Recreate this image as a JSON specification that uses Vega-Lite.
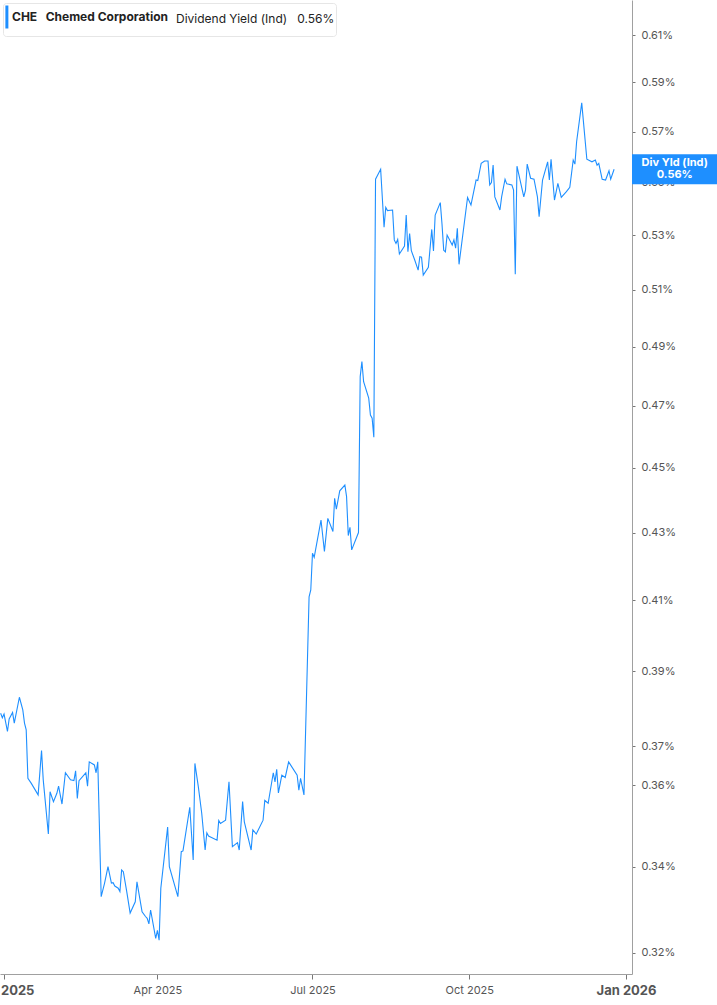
{
  "$schema": "https://vega.github.io/schema/vega-lite/v6.json",
  "width": 632,
  "height": 974,
  "padding": {"left": 0, "top": 0, "right": 85, "bottom": 31},
  "autosize": {"type": "none"},
  "background": "white",
  "config": {
    "font": "Inter",
    "view": {"stroke": null},
    "axis": {"grid": false, "domainColor": "#a0a0a0", "tickColor": "#777777", "labelColor": "#555555", "labelFontSize": 11, "title": null}
  },
  "datasets": {
    "yield": [
      {"date": "2024-12-30", "yield": 0.3787}, {"date": "2024-12-31", "yield": 0.3775}, {"date": "2025-01-01", "yield": 0.3785},
      {"date": "2025-01-03", "yield": 0.3739}, {"date": "2025-01-04", "yield": 0.3772}, {"date": "2025-01-06", "yield": 0.3789},
      {"date": "2025-01-07", "yield": 0.3761}, {"date": "2025-01-10", "yield": 0.383}, {"date": "2025-01-12", "yield": 0.3796},
      {"date": "2025-01-13", "yield": 0.3761}, {"date": "2025-01-14", "yield": 0.3743}, {"date": "2025-01-15", "yield": 0.3618},
      {"date": "2025-01-17", "yield": 0.3605}, {"date": "2025-01-21", "yield": 0.3576}, {"date": "2025-01-23", "yield": 0.3689},
      {"date": "2025-01-24", "yield": 0.3614}, {"date": "2025-01-27", "yield": 0.3479}, {"date": "2025-01-28", "yield": 0.3584},
      {"date": "2025-01-30", "yield": 0.3559}, {"date": "2025-02-01", "yield": 0.358}, {"date": "2025-02-02", "yield": 0.3598},
      {"date": "2025-02-04", "yield": 0.3553}, {"date": "2025-02-06", "yield": 0.3632}, {"date": "2025-02-09", "yield": 0.3614},
      {"date": "2025-02-11", "yield": 0.3612}, {"date": "2025-02-12", "yield": 0.3637}, {"date": "2025-02-13", "yield": 0.3567},
      {"date": "2025-02-14", "yield": 0.3612}, {"date": "2025-02-18", "yield": 0.3632}, {"date": "2025-02-19", "yield": 0.3598},
      {"date": "2025-02-20", "yield": 0.366}, {"date": "2025-02-23", "yield": 0.3652}, {"date": "2025-02-24", "yield": 0.3632},
      {"date": "2025-02-25", "yield": 0.366}, {"date": "2025-02-27", "yield": 0.3329}, {"date": "2025-03-01", "yield": 0.3361},
      {"date": "2025-03-03", "yield": 0.34}, {"date": "2025-03-05", "yield": 0.3361}, {"date": "2025-03-06", "yield": 0.3362},
      {"date": "2025-03-07", "yield": 0.3354}, {"date": "2025-03-09", "yield": 0.3349}, {"date": "2025-03-10", "yield": 0.3341},
      {"date": "2025-03-11", "yield": 0.3392}, {"date": "2025-03-12", "yield": 0.3388}, {"date": "2025-03-14", "yield": 0.3341},
      {"date": "2025-03-16", "yield": 0.3291}, {"date": "2025-03-19", "yield": 0.3317}, {"date": "2025-03-20", "yield": 0.3364},
      {"date": "2025-03-23", "yield": 0.3294}, {"date": "2025-03-25", "yield": 0.3283}, {"date": "2025-03-26", "yield": 0.3279},
      {"date": "2025-03-27", "yield": 0.3266}, {"date": "2025-03-28", "yield": 0.3298}, {"date": "2025-03-31", "yield": 0.3233},
      {"date": "2025-04-01", "yield": 0.3251}, {"date": "2025-04-02", "yield": 0.3229}, {"date": "2025-04-03", "yield": 0.3349},
      {"date": "2025-04-07", "yield": 0.3496}, {"date": "2025-04-08", "yield": 0.34}, {"date": "2025-04-13", "yield": 0.3329},
      {"date": "2025-04-15", "yield": 0.3436}, {"date": "2025-04-16", "yield": 0.3438}, {"date": "2025-04-20", "yield": 0.3545},
      {"date": "2025-04-22", "yield": 0.3416}, {"date": "2025-04-23", "yield": 0.3656}, {"date": "2025-04-25", "yield": 0.3597},
      {"date": "2025-04-27", "yield": 0.353}, {"date": "2025-04-29", "yield": 0.344}, {"date": "2025-04-30", "yield": 0.3482},
      {"date": "2025-05-01", "yield": 0.3474}, {"date": "2025-05-06", "yield": 0.3464}, {"date": "2025-05-07", "yield": 0.3512},
      {"date": "2025-05-08", "yield": 0.3505}, {"date": "2025-05-11", "yield": 0.3513}, {"date": "2025-05-13", "yield": 0.3609},
      {"date": "2025-05-15", "yield": 0.3448}, {"date": "2025-05-18", "yield": 0.3458}, {"date": "2025-05-19", "yield": 0.344},
      {"date": "2025-05-21", "yield": 0.3559}, {"date": "2025-05-22", "yield": 0.3509}, {"date": "2025-05-26", "yield": 0.344},
      {"date": "2025-05-27", "yield": 0.3489}, {"date": "2025-05-29", "yield": 0.3479}, {"date": "2025-06-02", "yield": 0.3513},
      {"date": "2025-06-03", "yield": 0.3562}, {"date": "2025-06-05", "yield": 0.3555}, {"date": "2025-06-08", "yield": 0.3632},
      {"date": "2025-06-09", "yield": 0.3609}, {"date": "2025-06-10", "yield": 0.3641}, {"date": "2025-06-11", "yield": 0.3581},
      {"date": "2025-06-13", "yield": 0.3626}, {"date": "2025-06-15", "yield": 0.362}, {"date": "2025-06-17", "yield": 0.366},
      {"date": "2025-06-22", "yield": 0.3626}, {"date": "2025-06-23", "yield": 0.3588}, {"date": "2025-06-24", "yield": 0.3618},
      {"date": "2025-06-26", "yield": 0.3576}, {"date": "2025-06-29", "yield": 0.411}, {"date": "2025-06-30", "yield": 0.413},
      {"date": "2025-07-01", "yield": 0.4238}, {"date": "2025-07-02", "yield": 0.4226}, {"date": "2025-07-06", "yield": 0.4338},
      {"date": "2025-07-08", "yield": 0.4243}, {"date": "2025-07-10", "yield": 0.4343}, {"date": "2025-07-13", "yield": 0.4303},
      {"date": "2025-07-14", "yield": 0.4405}, {"date": "2025-07-15", "yield": 0.4371}, {"date": "2025-07-17", "yield": 0.4428},
      {"date": "2025-07-20", "yield": 0.4446}, {"date": "2025-07-21", "yield": 0.441}, {"date": "2025-07-22", "yield": 0.4291},
      {"date": "2025-07-23", "yield": 0.4316}, {"date": "2025-07-24", "yield": 0.4248}, {"date": "2025-07-28", "yield": 0.43},
      {"date": "2025-07-29", "yield": 0.4798}, {"date": "2025-07-30", "yield": 0.4849}, {"date": "2025-07-31", "yield": 0.4781},
      {"date": "2025-08-03", "yield": 0.4726}, {"date": "2025-08-04", "yield": 0.467}, {"date": "2025-08-05", "yield": 0.466},
      {"date": "2025-08-06", "yield": 0.4598}, {"date": "2025-08-07", "yield": 0.5512}, {"date": "2025-08-10", "yield": 0.5551},
      {"date": "2025-08-12", "yield": 0.5329}, {"date": "2025-08-13", "yield": 0.5404}, {"date": "2025-08-14", "yield": 0.5392},
      {"date": "2025-08-17", "yield": 0.5394}, {"date": "2025-08-18", "yield": 0.5282}, {"date": "2025-08-19", "yield": 0.5269},
      {"date": "2025-08-20", "yield": 0.5284}, {"date": "2025-08-21", "yield": 0.523}, {"date": "2025-08-24", "yield": 0.5259},
      {"date": "2025-08-25", "yield": 0.5375}, {"date": "2025-08-26", "yield": 0.5238}, {"date": "2025-08-27", "yield": 0.5306},
      {"date": "2025-08-28", "yield": 0.5242}, {"date": "2025-08-30", "yield": 0.5208}, {"date": "2025-09-01", "yield": 0.5171},
      {"date": "2025-09-02", "yield": 0.522}, {"date": "2025-09-03", "yield": 0.5218}, {"date": "2025-09-04", "yield": 0.5153},
      {"date": "2025-09-07", "yield": 0.5181}, {"date": "2025-09-09", "yield": 0.5321}, {"date": "2025-09-10", "yield": 0.5241},
      {"date": "2025-09-11", "yield": 0.5375}, {"date": "2025-09-14", "yield": 0.5422}, {"date": "2025-09-15", "yield": 0.5341},
      {"date": "2025-09-16", "yield": 0.5244}, {"date": "2025-09-17", "yield": 0.5238}, {"date": "2025-09-18", "yield": 0.53},
      {"date": "2025-09-21", "yield": 0.5263}, {"date": "2025-09-22", "yield": 0.5282}, {"date": "2025-09-23", "yield": 0.5251},
      {"date": "2025-09-24", "yield": 0.5325}, {"date": "2025-09-25", "yield": 0.5192}, {"date": "2025-09-30", "yield": 0.5442},
      {"date": "2025-10-02", "yield": 0.5413}, {"date": "2025-10-05", "yield": 0.5509}, {"date": "2025-10-06", "yield": 0.5507},
      {"date": "2025-10-08", "yield": 0.5574}, {"date": "2025-10-10", "yield": 0.5583}, {"date": "2025-10-12", "yield": 0.5583},
      {"date": "2025-10-13", "yield": 0.549}, {"date": "2025-10-14", "yield": 0.5499}, {"date": "2025-10-15", "yield": 0.5567},
      {"date": "2025-10-16", "yield": 0.5444}, {"date": "2025-10-19", "yield": 0.5394}, {"date": "2025-10-20", "yield": 0.5444},
      {"date": "2025-10-22", "yield": 0.5512}, {"date": "2025-10-23", "yield": 0.5494}, {"date": "2025-10-26", "yield": 0.549},
      {"date": "2025-10-27", "yield": 0.547}, {"date": "2025-10-28", "yield": 0.5156}, {"date": "2025-10-29", "yield": 0.5563},
      {"date": "2025-11-02", "yield": 0.5444}, {"date": "2025-11-03", "yield": 0.547}, {"date": "2025-11-04", "yield": 0.5571},
      {"date": "2025-11-06", "yield": 0.5516}, {"date": "2025-11-08", "yield": 0.5512}, {"date": "2025-11-10", "yield": 0.5444},
      {"date": "2025-11-11", "yield": 0.5369}, {"date": "2025-11-13", "yield": 0.5509}, {"date": "2025-11-16", "yield": 0.558},
      {"date": "2025-11-17", "yield": 0.5509}, {"date": "2025-11-18", "yield": 0.559}, {"date": "2025-11-20", "yield": 0.5432},
      {"date": "2025-11-22", "yield": 0.5496}, {"date": "2025-11-24", "yield": 0.5442}, {"date": "2025-11-27", "yield": 0.5464},
      {"date": "2025-11-29", "yield": 0.5481}, {"date": "2025-12-01", "yield": 0.5587}, {"date": "2025-12-02", "yield": 0.5571},
      {"date": "2025-12-03", "yield": 0.5659}, {"date": "2025-12-06", "yield": 0.5816}, {"date": "2025-12-09", "yield": 0.559},
      {"date": "2025-12-12", "yield": 0.558}, {"date": "2025-12-14", "yield": 0.5587}, {"date": "2025-12-15", "yield": 0.5567},
      {"date": "2025-12-16", "yield": 0.5574}, {"date": "2025-12-18", "yield": 0.5512}, {"date": "2025-12-20", "yield": 0.5509},
      {"date": "2025-12-22", "yield": 0.5545}, {"date": "2025-12-23", "yield": 0.5512}, {"date": "2025-12-25", "yield": 0.5551}
    ],
    "last": [
      {"yield": 0.5551, "label": "Div Yld (Ind)\n0.56%"}
    ]
  },
  "layer": [
    {
      "data": {"name": "yield"},
      "mark": {"type": "line", "strokeWidth": 1.1, "clip": true},
      "encoding": {
        "x": {
          "field": "date",
          "type": "temporal",
          "scale": {"domain": [{"year": 2024, "month": 12, "date": 29, "hours": 15}, {"year": 2026, "month": 1, "date": 4, "hours": 12}]},
          "axis": {
            "values": [
              {"year": 2025, "month": 1, "date": 1},
              {"year": 2025, "month": 4, "date": 1},
              {"year": 2025, "month": 7, "date": 1},
              {"year": 2025, "month": 10, "date": 1},
              {"year": 2026, "month": 1, "date": 1}
            ],
            "format": "%b %Y",
            "tickSize": 5,
            "labelPadding": 5,
            "labelFlush": false,
            "labelOverlap": false,
            "labelFontWeight": {"condition": {"test": "month(datum.value) == 0", "value": "bold"}, "value": "normal"},
            "labelFontSize": {"condition": {"test": "month(datum.value) == 0", "value": 13}, "value": 11}
          }
        },
        "y": {
          "field": "yield",
          "type": "quantitative",
          "scale": {"type": "log", "domain": [0.3153, 0.6252], "nice": false, "zero": false, "padding": 0},
          "axis": {
            "orient": "right",
            "values": [0.32, 0.34, 0.36, 0.37, 0.39, 0.41, 0.43, 0.45, 0.47, 0.49, 0.51, 0.53, 0.55, 0.57, 0.59, 0.61],
            "labelExpr": "format(datum.value, '.2f') + '%'",
            "tickSize": 3,
            "labelPadding": 6,
            "labelOverlap": false
          }
        },
        "color": {
          "datum": "CHE\u00a0\u00a0\u00a0Chemed Corporation",
          "scale": {"range": ["#1e8fff"]},
          "legend": {
            "orient": "top-left",
            "offset": 3,
            "title": "Dividend Yield (Ind)\u00a0\u00a0\u00a00.56%\u00a0\u00a0\u00a0\u00a0\u00a0",
            "titleOrient": "right",
            "titleFontWeight": "normal",
            "titleFontSize": 12,
            "titleColor": "#222222",
            "titlePadding": 8,
            "labelFontWeight": "bold",
            "labelFontSize": 12,
            "labelColor": "#222222",
            "labelOffset": -18,
            "symbolType": "M-0.88,-1V1",
            "symbolSize": 529,
            "symbolStrokeWidth": 3,
            "fillColor": "white",
            "strokeColor": "#e6e6e6",
            "cornerRadius": 3,
            "padding": 1
          }
        }
      }
    },
    {
      "data": {"name": "last"},
      "mark": {"type": "bar", "height": 30, "color": "#1e8fff", "clip": false},
      "encoding": {
        "x": {"datum": {"year": 2026, "month": 1, "date": 4, "hours": 12}, "type": "temporal"},
        "x2": {"datum": {"year": 2026, "month": 2, "date": 25}},
        "y": {"field": "yield", "type": "quantitative"}
      }
    },
    {
      "data": {"name": "last"},
      "mark": {"type": "text", "color": "white", "fontWeight": "bold", "fontSize": 11, "lineBreak": "\n", "lineHeight": 12, "baseline": "middle", "align": "center", "dy": -6, "clip": false},
      "encoding": {
        "x": {"datum": {"year": 2026, "month": 1, "date": 29, "hours": 14}, "type": "temporal"},
        "y": {"field": "yield", "type": "quantitative"},
        "text": {"field": "label"}
      }
    }
  ]
}
